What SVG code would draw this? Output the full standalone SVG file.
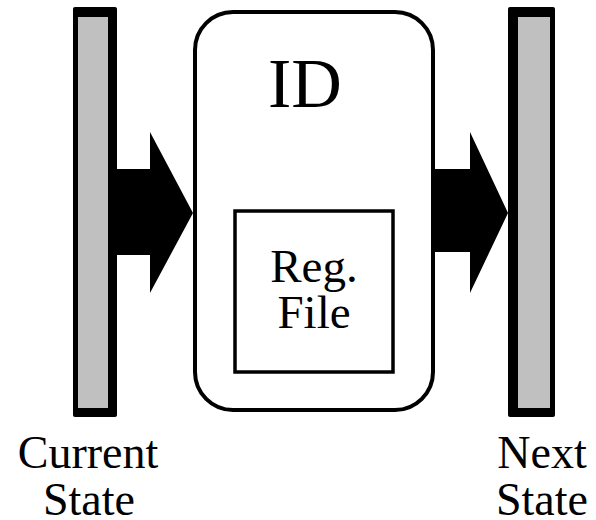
<svg xmlns="http://www.w3.org/2000/svg" width="596" height="520" viewBox="0 0 596 520">
  <style>
    .frame { fill: #000000; }
    .latch { fill: #c0c0c0; }
    .stage { fill: #ffffff; stroke: #000000; stroke-width: 4; }
    .regfile { fill: #ffffff; stroke: #000000; stroke-width: 3.5; }
    .flow { fill: #000000; }
    .lbl { font-family: "Liberation Serif", "Times New Roman", serif; fill: #000000; text-anchor: middle; }
  </style>
  <rect width="596" height="520" fill="#ffffff"/>

  <!-- pipeline register: current state -->
  <g id="current-state">
    <rect class="frame" x="73" y="7" width="44" height="410" rx="2"/>
    <rect class="latch" x="78" y="17" width="30" height="391"/>
    <text class="lbl" x="88" y="468" font-size="46">Current</text>
    <text class="lbl" x="89" y="515" font-size="46">State</text>
  </g>

  <!-- instruction decode stage -->
  <g id="id-stage">
    <rect class="stage" x="195" y="12" width="238" height="398" rx="38" ry="38"/>
    <text class="lbl" x="305" y="107" font-size="70">ID</text>
  </g>

  <!-- register file inside decode -->
  <g id="reg-file">
    <rect class="regfile" x="235" y="211" width="158" height="161"/>
    <text class="lbl" x="314" y="282" font-size="47">Reg.</text>
    <text class="lbl" x="314" y="328" font-size="47">File</text>
  </g>

  <!-- pipeline register: next state -->
  <g id="next-state">
    <rect class="frame" x="508" y="7" width="47" height="410" rx="2"/>
    <rect class="latch" x="518" y="17" width="32" height="391"/>
    <text class="lbl" x="542" y="468" font-size="46">Next</text>
    <text class="lbl" x="542" y="515" font-size="46">State</text>
  </g>

  <!-- data flow arrows -->
  <g id="connectors">
    <polygon class="flow" points="117,169 150,169 150,132 193,213 150,293 150,255 117,255"/>
    <polygon class="flow" points="433,169 470,169 470,132 508,213 470,293 470,252 433,252"/>
  </g>
</svg>
